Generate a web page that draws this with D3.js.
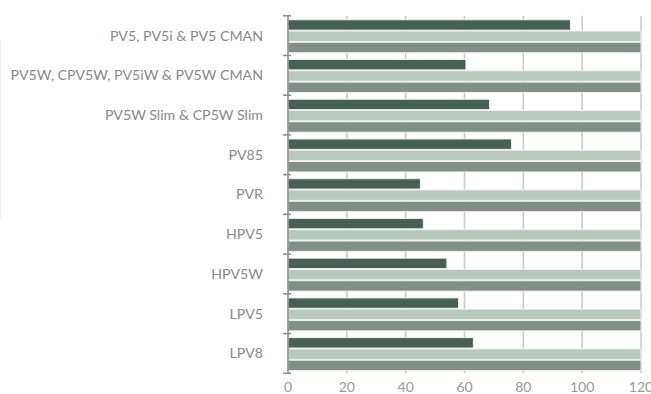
<!DOCTYPE html>
<html>
<head>
<meta charset="utf-8">
<script src="https://cdn.jsdelivr.net/npm/d3@7/dist/d3.min.js"></script>
<style>
  html, body { margin: 0; padding: 0; background: #fff; }
  svg { display: block; font-family: Lato, "Open Sans", sans-serif; }
</style>
</head>
<body>
<svg id="chart" width="651" height="394"></svg>
<script>
// Product families, top to bottom
const categories = [
  "PV5, PV5i & PV5 CMAN",
  "PV5W, CPV5W, PV5iW & PV5W CMAN",
  "PV5W Slim & CP5W Slim",
  "PV85",
  "PVR",
  "HPV5",
  "HPV5W",
  "LPV5",
  "LPV8"
];
const seriesNames = ["a", "b", "c"];
const seriesA = [96, 60.5, 68.5, 76, 45, 46, 54, 58, 63];
const seriesB = [120, 120, 120, 120, 120, 120, 120, 120, 120];
const seriesC = [120, 120, 120, 120, 120, 120, 120, 120, 120];
const xTicks = [0, 20, 40, 60, 80, 100, 120];
const colors = ["#475f55", "#b8c8bd", "#818f87"];

const series = [seriesA, seriesB, seriesC];
const rows = categories.map((c, i) => ({
  cat: c,
  vals: seriesNames.map((s, k) => ({ key: s, value: series[k][i] }))
}));

const svg = d3.select("#chart");
const plotLeft = 288, plotRight = 641, plotTop = 15.7, plotBottom = 373.3;

const x = d3.scaleLinear().domain([0, 120]).range([plotLeft, plotRight]);
const y = d3.scaleBand().domain(categories).range([plotTop, plotBottom]).padding(0);
const y1 = d3.scaleBand().domain(seriesNames).range([0, y.bandwidth()])
  .paddingInner(0.08).paddingOuter(0.3).align(0.6);

// faint frame line on the left edge
svg.append("line").attr("x1", 0.5).attr("x2", 0.5).attr("y1", 40).attr("y2", 220)
  .attr("stroke", "#eef1ef").attr("stroke-width", 1);

// vertical gridlines
svg.append("g").selectAll("line").data(xTicks.filter(d => d > 0)).join("line")
  .attr("x1", d => x(d)).attr("x2", d => x(d))
  .attr("y1", plotTop).attr("y2", plotBottom)
  .attr("stroke", "#cccccc").attr("stroke-width", 1.6);

// bars
const groups = svg.append("g").selectAll("g").data(rows).join("g")
  .attr("transform", d => `translate(0,${y(d.cat)})`);
groups.selectAll("rect").data(d => d.vals).join("rect")
  .attr("x", x(0))
  .attr("y", d => y1(d.key))
  .attr("width", d => x(d.value) - x(0))
  .attr("height", y1.bandwidth())
  .attr("fill", (d, i) => colors[i])
  .attr("stroke", "#eef1ef").attr("stroke-width", 1);

// category axis line with boundary ticks
svg.append("line").attr("x1", plotLeft).attr("x2", plotLeft).attr("y1", plotTop).attr("y2", plotBottom)
  .attr("stroke", "#8f8f8f").attr("stroke-width", 1.6);
const bounds = categories.map(c => y(c)).concat([plotBottom]);
svg.append("g").selectAll("line").data(bounds).join("line")
  .attr("x1", plotLeft - 5).attr("x2", plotLeft + 3)
  .attr("y1", d => d).attr("y2", d => d)
  .attr("stroke", "#8f8f8f").attr("stroke-width", 1.6);

// category labels
svg.append("g").selectAll("text").data(categories).join("text")
  .attr("x", 263)
  .attr("y", d => y(d) + y.bandwidth() / 2)
  .attr("dy", "0.35em")
  .attr("text-anchor", "end")
  .attr("fill", "#8a8a8a")
  .attr("font-size", 14.2)
  .text(d => d);

// value axis labels
svg.append("g").selectAll("text").data(xTicks).join("text")
  .attr("x", d => x(d))
  .attr("y", 392)
  .attr("text-anchor", "middle")
  .attr("fill", "#9a9a9a")
  .attr("font-size", 14)
  .text(d => d);
</script>
</body>
</html>
